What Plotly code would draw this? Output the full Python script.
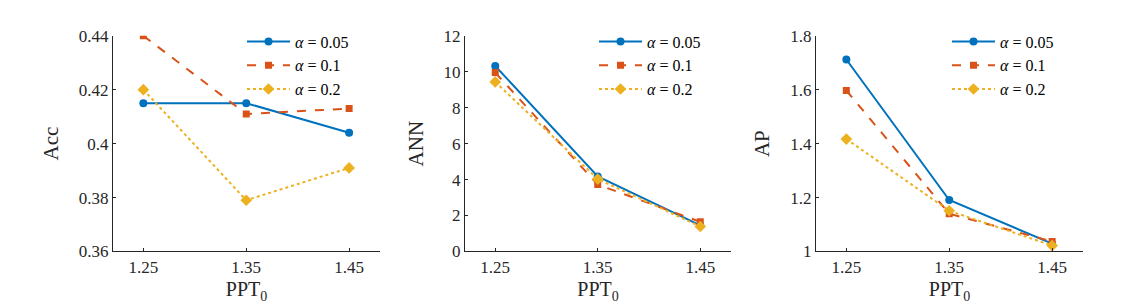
import plotly.graph_objects as go

ppt = [1.25, 1.35, 1.45]
series_names = ["<i>α</i> = 0.05", "<i>α</i> = 0.1", "<i>α</i> = 0.2"]

acc_005 = [0.415, 0.415, 0.404]
acc_01 = [0.440, 0.411, 0.413]
acc_02 = [0.420, 0.379, 0.391]

ann_005 = [10.32, 4.17, 1.45]
ann_01 = [9.95, 3.72, 1.65]
ann_02 = [9.43, 4.03, 1.39]

ap_005 = [1.712, 1.191, 1.029]
ap_01 = [1.597, 1.140, 1.037]
ap_02 = [1.417, 1.151, 1.022]

panels = [
    ("Acc", [acc_005, acc_01, acc_02], [0.36, 0.44], [0.36, 0.38, 0.40, 0.42, 0.44], ["0.36", "0.38", "0.4", "0.42", "0.44"]),
    ("ANN", [ann_005, ann_01, ann_02], [0, 12], [0, 2, 4, 6, 8, 10, 12], ["0", "2", "4", "6", "8", "10", "12"]),
    ("AP", [ap_005, ap_01, ap_02], [1.0, 1.8], [1.0, 1.2, 1.4, 1.6, 1.8], ["1", "1.2", "1.4", "1.6", "1.8"]),
]

colors = ["#0072BD", "#D95319", "#EDB120"]
dashes = ["solid", "dash", "dot"]
symbols = ["circle", "square", "diamond"]
msizes = [8, 7, 9]

W, H = 1136, 306
xdomains = [(105, 372), (457, 723), (808, 1075)]
ytop, ybot = 20, 250
legend_x = [234, 586, 939]

FONT = "Liberation Serif, Times New Roman, serif"
AXC = "#262626"

fig = go.Figure()
layout = dict(
    width=W, height=H,
    margin=dict(l=0, r=0, t=0, b=0),
    paper_bgcolor="white", plot_bgcolor="white",
    font=dict(family=FONT, size=16, color=AXC),
    showlegend=True,
)

for i, (ylabel, data, yr, tv, tt) in enumerate(panels):
    sfx = "" if i == 0 else str(i + 1)
    leg = "legend" if i == 0 else f"legend{i+1}"
    for j in range(3):
        fig.add_trace(go.Scatter(
            x=ppt, y=data[j], name=series_names[j], mode="lines+markers",
            line=dict(color=colors[j], width=2, dash=dashes[j]),
            marker=dict(symbol=symbols[j], size=msizes[j], color=colors[j]),
            xaxis="x" + sfx, yaxis="y" + sfx, legend=leg,
        ))
    x0, x1 = xdomains[i]
    layout["xaxis" + sfx] = dict(
        domain=[x0 / W, x1 / W], anchor="y" + sfx, range=[1.2205, 1.4800],
        tickvals=ppt, ticktext=["1.25", "1.35", "1.45"],
        ticks="inside", ticklen=3, tickcolor=AXC, showgrid=False, zeroline=False,
        showline=True, linecolor=AXC, linewidth=1,
        tickfont=dict(family=FONT, size=17, color=AXC),
        title=dict(text="PPT<sub>0</sub>", font=dict(family=FONT, size=20, color=AXC), standoff=6),
    )
    layout["yaxis" + sfx] = dict(
        domain=[1 - ybot / H, 1 - ytop / H], anchor="x" + sfx, range=yr,
        tickvals=tv, ticktext=tt,
        ticks="inside", ticklen=3, tickcolor=AXC, showgrid=False, zeroline=False,
        showline=True, linecolor=AXC, linewidth=1,
        tickfont=dict(family=FONT, size=17, color=AXC),
        title=dict(text=ylabel, font=dict(family=FONT, size=21, color=AXC), standoff=14),
    )
    layout[leg] = dict(
        x=legend_x[i] / W, y=1 - 8 / H, xanchor="left", yanchor="top",
        bgcolor="rgba(0,0,0,0)", borderwidth=0,
        font=dict(family=FONT, size=16, color="black"),
        itemwidth=43, tracegroupgap=0,
    )

fig.update_layout(**layout)
fig.write_html("out.html")
